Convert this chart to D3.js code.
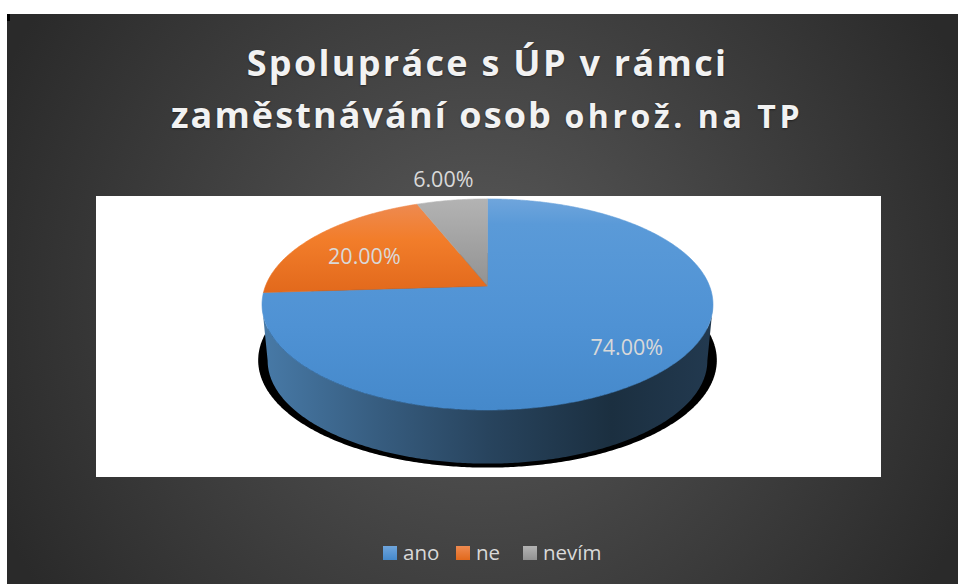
<!DOCTYPE html>
<html lang="cs">
<head>
<meta charset="UTF-8"/>
<title>Spolupráce s ÚP</title>
<script src="https://d3js.org/d3.v7.min.js"></script>
<style>
  body { margin: 0; background: #fff; }
  svg { display: block; }
  text { font-family: "Open Sans", sans-serif; }
  .title text { text-shadow: 0 1px 2px rgba(0, 0, 0, 0.45); }
</style>
</head>
<body>
<svg id="main" width="958" height="584"></svg>
<script>
// data
var categories = ["ano", "ne", "nevím"];
var shares = [0.74, 0.20, 0.06];
var colors = ["#5b9bd5", "#ed7d31", "#a5a5a5"];
var topStops = [
  [[0, "#6fa5dc"], [0.12, "#5a9ad8"], [0.6, "#4f92d4"], [1, "#4589cb"]],
  [[0, "#ee8a50"], [0.4, "#f27d2a"], [1, "#e2691c"]],
  [[0, "#b3b3b3"], [1, "#929292"]]
];

// layout
var cx = 487.5, apexY = 286, A = 222, B = 102.3, persp = 0.175;
var depthY = 342.7, depthScale = 0.975;
var shadowY = 341.5, shadowScale = 1.017;
var labelRadii = [0.78, 0.7, 1.3];
var labelDy = [9, 14, 8];
var legendX = [383, 456, 523];

var svg = d3.select("#main");
var defs = svg.append("defs");

// background
var bg = defs.append("radialGradient").attr("id", "bg")
  .attr("gradientUnits", "userSpaceOnUse")
  .attr("cx", 482).attr("cy", 300).attr("r", 530);
bg.append("stop").attr("offset", 0).attr("stop-color", "#5a5a5a");
bg.append("stop").attr("offset", 1).attr("stop-color", "#2a2a2a");

svg.append("rect").attr("x", 7).attr("y", 14).attr("width", 951).attr("height", 570).attr("fill", "url(#bg)");
svg.append("rect").attr("x", 7).attr("y", 14).attr("width", 3).attr("height", 7).attr("fill", "#000");
svg.append("rect").attr("x", 96).attr("y", 196).attr("width", 785).attr("height", 281).attr("fill", "#fff");

// pie angles from d3, then tilted by hand since d3 has no 3d pie
var pie = d3.pie().sort(null).value(function(d) { return d; });
var slices = pie(shares);

function project(theta, r, y0, s) {
  var u = Math.sin(theta) * r, v = Math.cos(theta) * r;
  var w = 1 + persp * v;
  return [cx + s * A * u / w, y0 - s * B * v / w];
}

function rim(a0, a1, y0, s) {
  var n = Math.max(2, Math.ceil((a1 - a0) / 0.01));
  return d3.range(n + 1).map(function(i) {
    return project(a0 + (a1 - a0) * i / n, 1, y0, s);
  });
}

var line = d3.line();

// silhouette of the tilted disc, the wall is only seen between these
var sideFrom = Math.acos(-persp);
var sideTo = 2 * Math.PI - sideFrom;

// shadow under the pie
svg.append("path")
  .attr("d", line(rim(0, 2 * Math.PI, shadowY, shadowScale)) + "Z")
  .attr("fill", "#000");

// side wall
slices.forEach(function(d, i) {
  var a0 = Math.max(d.startAngle, sideFrom), a1 = Math.min(d.endAngle, sideTo);
  if (a1 <= a0) return;
  var g = defs.append("linearGradient").attr("id", "side" + i)
    .attr("gradientUnits", "userSpaceOnUse")
    .attr("x1", cx - A).attr("x2", cx + A).attr("y1", 0).attr("y2", 0);
  var c = d3.color(colors[i]);
  function shade(k) { return d3.rgb(c.r * k, c.g * k, c.b * k).formatHex(); }
  g.append("stop").attr("offset", 0).attr("stop-color", shade(0.78));
  g.append("stop").attr("offset", 0.25).attr("stop-color", shade(0.6));
  g.append("stop").attr("offset", 0.5).attr("stop-color", shade(0.44));
  g.append("stop").attr("offset", 0.78).attr("stop-color", shade(0.3));
  g.append("stop").attr("offset", 1).attr("stop-color", shade(0.37));
  var pts = rim(a0, a1, apexY, 1).concat(rim(a0, a1, depthY, depthScale).reverse());
  svg.append("path").attr("d", line(pts) + "Z").attr("fill", "url(#side" + i + ")");
});

// top surface, stroked in its own fill so the black shadow does not show in the seams
slices.forEach(function(d, i) {
  var g = defs.append("linearGradient").attr("id", "top" + i)
    .attr("x1", 0).attr("x2", 0).attr("y1", 0).attr("y2", 1);
  topStops[i].forEach(function(s) {
    g.append("stop").attr("offset", s[0]).attr("stop-color", s[1]);
  });
  var pts = [[cx, apexY]].concat(rim(d.startAngle, d.endAngle, apexY, 1));
  svg.append("path").attr("d", line(pts) + "Z")
    .attr("fill", "url(#top" + i + ")")
    .attr("stroke", "url(#top" + i + ")")
    .attr("stroke-width", 0.6);
});

// data labels
slices.forEach(function(d, i) {
  var p = project((d.startAngle + d.endAngle) / 2, labelRadii[i], apexY, 1);
  svg.append("text")
    .attr("x", p[0]).attr("y", p[1] + labelDy[i])
    .attr("text-anchor", "middle")
    .attr("font-size", 21.5)
    .attr("fill", "#d9d9d9")
    .text(d3.format(".2%")(d.data));
});

// title
var title = svg.append("g").attr("class", "title").attr("font-weight", 700).attr("fill", "#f2f2f2")
  .attr("text-anchor", "middle");
title.append("text").attr("x", 487.5).attr("y", 75.5).attr("font-size", 36)
  .style("letter-spacing", "2.3px")
  .text("Spolupráce s ÚP v rámci");
var t2 = title.append("text").attr("x", 487).attr("y", 128).attr("font-size", 36)
  .style("letter-spacing", "2.1px");
t2.append("tspan").text("zaměstnávání osob ");
t2.append("tspan").attr("font-size", 32).style("letter-spacing", "3.6px").text("ohrož. na TP");

// legend
var legend = svg.selectAll("g.legend").data(categories).enter().append("g").attr("class", "legend");
categories.forEach(function(c, i) {
  var g = defs.append("linearGradient").attr("id", "leg" + i)
    .attr("x1", 0).attr("x2", 0).attr("y1", 0).attr("y2", 1);
  g.append("stop").attr("offset", 0).attr("stop-color", topStops[i][0][1]);
  g.append("stop").attr("offset", 1).attr("stop-color", topStops[i][topStops[i].length - 1][1]);
});
legend.append("rect")
  .attr("x", function(d, i) { return legendX[i]; })
  .attr("y", 546).attr("width", 14).attr("height", 14)
  .attr("fill", function(d, i) { return "url(#leg" + i + ")"; });
legend.append("text")
  .attr("x", function(d, i) { return legendX[i] + 20; })
  .attr("y", 560)
  .attr("font-size", 20.5)
  .attr("fill", "#d9d9d9")
  .text(function(d) { return d; });
</script>
</body>
</html>
